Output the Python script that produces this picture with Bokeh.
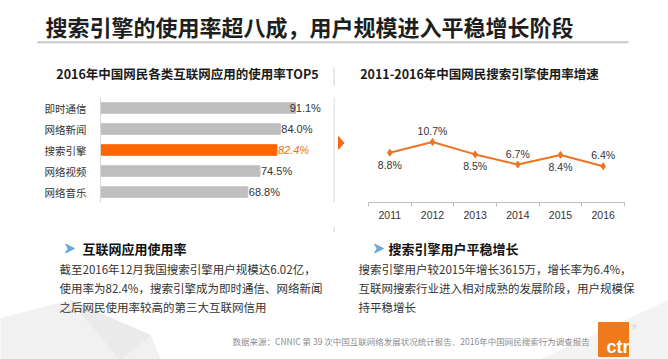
import numpy as np
from bokeh.plotting import figure
from bokeh.layouts import column, row
from bokeh.models import Range1d, FactorRange, FixedTicker, ColumnDataSource
from bokeh.core.properties import value
from bokeh.embed import file_html
from bokeh.resources import INLINE

# ---------------- data ----------------
title_text = "搜索引擎的使用率超八成，用户规模进入平稳增长阶段"
bar_title = "2016年中国网民各类互联网应用的使用率TOP5"
line_title = "2011-2016年中国网民搜索引擎使用率增速"

apps = ["即时通信", "网络新闻", "搜索引擎", "网络视频", "网络音乐"]
usage = [91.1, 84.0, 82.4, 74.5, 68.8]
highlight = "搜索引擎"

years = [2011, 2012, 2013, 2014, 2015, 2016]
growth = [8.8, 10.7, 8.5, 6.7, 8.4, 6.4]
growth_label_side = ["below", "above", "below", "above", "below", "above"]

left_head = "互联网应用使用率"
left_para = [
    "截至2016年12月我国搜索引擎用户规模达6.02亿，",
    "使用率为82.4%，搜索引擎成为即时通信、网络新闻",
    "之后网民使用率较高的第三大互联网信用",
]
right_head = "搜索引擎用户平稳增长"
right_para = [
    "搜索引擎用户较2015年增长3615万，增长率为6.4%，",
    "互联网搜索行业进入相对成熟的发展阶段，用户规模保",
    "持平稳增长",
]
source_text = "数据来源：CNNIC 第 39 次中国互联网络发展状况统计报告、2016年中国网民搜索行为调查报告"
logo_text = "ctr"

# ---------------- styles ----------------
CJK = value("Noto Sans CJK SC")
LAT = value("Liberation Sans")
GRAY_BAR = "#BFBFBF"
ORANGE_BAR = "#FF6600"
LINE_ORANGE = "#EE7424"
TEXT = "#333333"
SEP = "#d0d0d0"


def canvas(w, h, x0, y0):
    p = figure(width=w, height=h, x_range=Range1d(x0, x0 + w), y_range=Range1d(y0 + h, y0),
               x_axis_type=None, y_axis_type=None, toolbar_location=None,
               output_backend="svg", min_border=0, outline_line_color=None)
    return p


# ---------------- header ----------------
H = canvas(668, 86, 0, 0)
H.text(x=[45], y=[25], text=[title_text], text_font=CJK, text_font_style="bold",
       text_font_size="22px", text_color="#1e1e1e", text_baseline="middle", text_align="left")
H.segment(x0=[37], y0=[41.7], x1=[628], y1=[41.7], line_color="#c8c8c8", line_width=2)
H.text(x=[187, 479], y=[72.5, 72.5], text=[bar_title, line_title], text_font=CJK,
       text_font_style="bold", text_font_size="12.5px", text_color="#1a1a1a",
       text_baseline="middle", text_align="center")
H.segment(x0=[333.5], y0=[67], x1=[333.5], y1=[86], line_color=SEP, line_width=1)

# ---------------- bar chart ----------------
label_max = 87.9
src = ColumnDataSource(dict(
    app=apps,
    usage=usage,
    color=[ORANGE_BAR if a == highlight else GRAY_BAR for a in apps],
    lx=np.minimum(usage, label_max),
    lbl=[f"{v:.1f}%" for v in usage],
    lc=["#F07010" if a == highlight else TEXT for a in apps],
    ls=["italic" if a == highlight else "normal" for a in apps],
))
B = figure(width=333, height=140, y_range=FactorRange(factors=apps[::-1]),
           x_range=Range1d(0, 107.9), x_axis_type=None, toolbar_location=None,
           output_backend="svg", min_border_left=100, min_border_right=2,
           min_border_top=11, min_border_bottom=6, outline_line_color=None)
B.hbar(y="app", left=0, right="usage", height=0.5, color="color", source=src)
B.text(x="lx", y="app", text="lbl", x_offset=1, text_baseline="middle", text_align="left",
       text_color="lc", text_font_style="ls", text_font=LAT, text_font_size="11px", source=src)
B.ygrid.visible = False
B.yaxis.axis_line_color = "#d9d9d9"
B.yaxis.major_tick_line_color = None
B.yaxis.minor_tick_line_color = None
B.yaxis.major_label_text_font = "Noto Sans CJK SC"
B.yaxis.major_label_text_font_size = "10.5px"
B.yaxis.major_label_text_color = TEXT
B.yaxis.major_label_standoff = 8

# ---------------- separator strip ----------------
S = canvas(15, 140, 333, 86)
S.segment(x0=[333.5], y0=[86], x1=[333.5], y1=[226], line_color=SEP, line_width=1)
S.patch(x=[338, 343.5, 338], y=[138, 146.5, 155], color="#F26B1D")

# ---------------- line chart ----------------
L = figure(width=320, height=140, x_range=Range1d(years[0] - 0.5, years[-1] + 0.5),
           y_range=Range1d(0, 18.56), y_axis_type=None, toolbar_location=None,
           output_backend="svg", min_border_left=20, min_border_right=44,
           min_border_top=5, min_border_bottom=24, outline_line_color=None)
L.xaxis.ticker = FixedTicker(ticks=years,
                             minor_ticks=[y - 0.5 for y in years] + [years[-1] + 0.5])
L.xgrid.visible = False
L.xaxis.axis_line_color = "#bfbfbf"
L.xaxis.major_tick_out = 0
L.xaxis.major_tick_in = 0
L.xaxis.minor_tick_out = 4
L.xaxis.minor_tick_in = 0
L.xaxis.minor_tick_line_color = "#bfbfbf"
L.xaxis.major_label_text_font = "Liberation Sans"
L.xaxis.major_label_text_font_size = "10.5px"
L.xaxis.major_label_text_color = TEXT
L.xaxis.major_label_standoff = 4
lsrc = ColumnDataSource(dict(
    year=years, g=growth, lbl=[f"{v:.1f}%" for v in growth],
    off=[12 if s == "below" else -11 for s in growth_label_side],
))
L.line(x="year", y="g", line_color=LINE_ORANGE, line_width=2, source=lsrc)
L.scatter(x="year", y="g", marker="diamond", size=7, color=LINE_ORANGE, source=lsrc)
L.text(x="year", y="g", text="lbl", y_offset="off", text_align="center", text_baseline="middle",
       text_font=LAT, text_font_size="10.5px", text_color=TEXT, source=lsrc)

# ---------------- footer ----------------
F = canvas(668, 133, 0, 226)
F.patch(x=[0, 0, 70, 150, 160], y=[359, 318, 300, 335, 359], color="#f1f1f1")
F.patch(x=[70, 150, 120], y=[300, 335, 359], color="#eaeaea")
F.patch(x=[540, 668, 668], y=[359, 300, 359], color="#f3f3f3")
F.segment(x0=[333.5], y0=[226], x1=[333.5], y1=[232], line_color=SEP, line_width=1)
# bullet arrowheads
F.patches(xs=[[65, 74, 65, 67.5], [374, 383, 374, 376.5]],
          ys=[[243.5, 248, 252.5, 248], [243.5, 248, 252.5, 248]], color="#6FA8DC")
F.text(x=[82, 388], y=[248, 248], text=[left_head, right_head], text_font=CJK,
       text_font_style="bold", text_font_size="13px", text_color="#111111",
       text_baseline="middle", text_align="left")
line_y = [268, 287.7, 306.7]
F.text(x=[59] * len(left_para), y=line_y[:len(left_para)], text=left_para, text_font=CJK,
       text_font_size="11.5px", text_color=TEXT, text_baseline="middle", text_align="left")
F.text(x=[358] * len(right_para), y=line_y[:len(right_para)], text=right_para, text_font=CJK,
       text_font_size="11.5px", text_color=TEXT, text_baseline="middle", text_align="left")
F.text(x=[232], y=[340], text=[source_text], text_font=CJK, text_font_size="8.5px",
       text_color="#8c8c8c", text_baseline="middle", text_align="left")
F.quad(left=[598], right=[628], top=[322], bottom=[356], color="#F07A1A")
F.text(x=[606], y=[346.5], text=[logo_text], text_font=LAT, text_font_style="bold",
       text_font_size="18px", text_color="white", text_baseline="alphabetic", text_align="left")
F.text(x=[634], y=[326], text=["®"], text_font=LAT, text_font_size="6px",
       text_color="#bbbbbb", text_baseline="middle", text_align="center")

layout = column(H, row(B, S, L), F)
open("out.html", "w").write(file_html(layout, INLINE))
